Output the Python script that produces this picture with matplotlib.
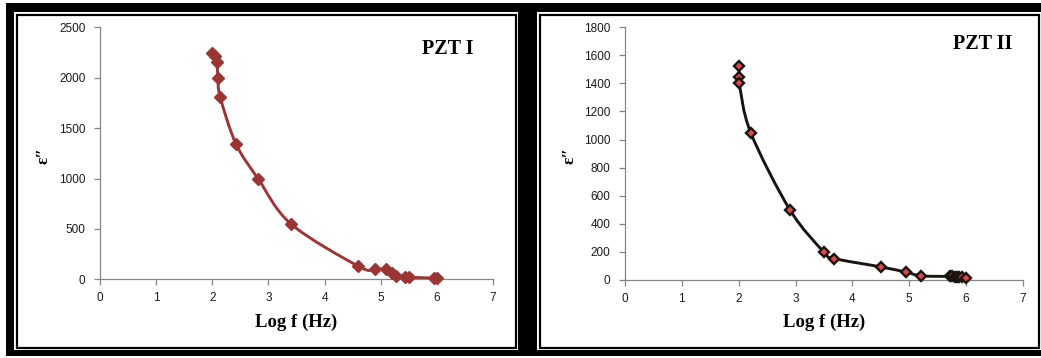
import matplotlib.pyplot as plt
from matplotlib.patches import Rectangle, PathPatch
from matplotlib.path import Path
import numpy as np

W, H = 1041, 358

# PZT I: dielectric loss vs log frequency
pzt1_logf = [2.00, 2.04, 2.08, 2.10, 2.14, 2.42, 2.82, 3.40, 4.60, 4.89, 5.10, 5.20, 5.27, 5.43, 5.50, 5.95, 6.00]
pzt1_eps = [2250, 2220, 2160, 2000, 1810, 1345, 995, 550, 130, 98, 105, 60, 35, 22, 20, 12, 10]

# PZT II
pzt2_logf = [2.00, 2.01, 2.01, 2.21, 2.90, 3.50, 3.68, 4.50, 4.95, 5.21, 5.72, 5.76, 5.80, 5.84, 5.88, 5.92, 6.00]
pzt2_eps = [1522, 1443, 1400, 1050, 498, 195, 150, 90, 52, 26, 22, 22, 20, 20, 18, 16, 13]


def px(x0, y0, x1, y1):
    # pixel box (from top-left) -> figure fraction rectangle
    return (x0 / W, 1 - y1 / H, (x1 - x0) / W, (y1 - y0) / H)


def smooth_path(xs, ys):
    # Catmull-Rom style bezier, like a spreadsheet "smoothed line"
    p = np.column_stack([xs, ys]).astype(float)
    pts = np.vstack([p[0], p, p[-1]])
    verts = [p[0]]
    codes = [Path.MOVETO]
    for i in range(1, len(pts) - 2):
        c1 = pts[i] + (pts[i + 1] - pts[i - 1]) / 6
        c2 = pts[i + 1] - (pts[i + 2] - pts[i]) / 6
        verts += [c1, c2, pts[i + 1]]
        codes += [Path.CURVE4] * 3
    return Path(verts, codes)


def frame_rect(box, **kw):
    r = px(*box)
    return Rectangle(r[:2], r[2], r[3], transform=fig.transFigure, zorder=-10, **kw)


fig = plt.figure(figsize=(W / 100, H / 100), dpi=100)
fig.patch.set_facecolor("white")

# black frame with white inset and thin border lines
fig.patches.append(frame_rect((6, 3, 1041, 356), facecolor="black", edgecolor="none"))
for box, inner in [((14, 12, 518, 350), (16.5, 14.5, 516, 348)),
                   ((537, 12, 1041, 350), (539.5, 14.5, 1039, 348))]:
    fig.patches.append(frame_rect(box, facecolor="white", edgecolor="none"))
    fig.patches.append(frame_rect(inner, facecolor="white", edgecolor="black", linewidth=1.6))

tick_font = {"family": "Liberation Sans", "size": 8.5}
label_font = {"family": "Liberation Serif", "weight": "bold"}

panels = [
    dict(box=(100, 27.3, 493, 279.3), x=pzt1_logf, y=pzt1_eps, ymax=2500, ystep=500,
         line="#9b3534", face="#9b3534", edge="#9b3534", ms=6.4, mew=1,
         name="PZT I", name_xy=(448, 49), ylab_x=43),
    dict(box=(625, 27.5, 1023, 279.5), x=pzt2_logf, y=pzt2_eps, ymax=1800, ystep=200,
         line="#1a1410", face="#e04848", edge="#1a1410", ms=5.2, mew=1.7,
         name="PZT II", name_xy=(983, 44), ylab_x=570),
]

for p in panels:
    ax = fig.add_axes(px(*p["box"]))
    ax.set_xlim(0, 7)
    ax.set_ylim(0, p["ymax"])
    ax.set_xticks(range(0, 8))
    ax.set_yticks(range(0, p["ymax"] + 1, p["ystep"]))
    for s in ["top", "right"]:
        ax.spines[s].set_visible(False)
    for s in ["left", "bottom"]:
        ax.spines[s].set_color("#868686")
        ax.spines[s].set_linewidth(0.9)
    ax.tick_params(direction="out", length=4, width=0.9, color="#868686",
                   labelcolor="#1a1a1a")
    ax.tick_params(axis="y", pad=6.5)
    ax.tick_params(axis="x", pad=5.5)
    for lab in ax.get_xticklabels() + ax.get_yticklabels():
        lab.set_fontfamily(tick_font["family"])
        lab.set_fontsize(tick_font["size"])
    ax.patch.set_alpha(0)

    ax.add_patch(PathPatch(smooth_path(p["x"], p["y"]), facecolor="none",
                           edgecolor=p["line"], linewidth=2.1, clip_on=False, zorder=2))
    ax.plot(p["x"], p["y"], linestyle="none", marker="D", markersize=p["ms"],
            markerfacecolor=p["face"], markeredgecolor=p["edge"],
            markeredgewidth=p["mew"], clip_on=False, zorder=3)

    cx = (p["box"][0] + p["box"][2]) / 2
    fig.text(cx / W, 1 - 322 / H, "Log f (Hz)", ha="center", va="center",
             fontsize=13.5, **label_font)
    fig.text(p["ylab_x"] / W, 1 - 155 / H, "ε\u2033", ha="center", va="center",
             rotation=90, fontsize=12.5, **label_font)
    fig.text(p["name_xy"][0] / W, 1 - p["name_xy"][1] / H, p["name"], ha="center",
             va="center", fontsize=14.5, **label_font)

fig.savefig("out.png", dpi=100)
